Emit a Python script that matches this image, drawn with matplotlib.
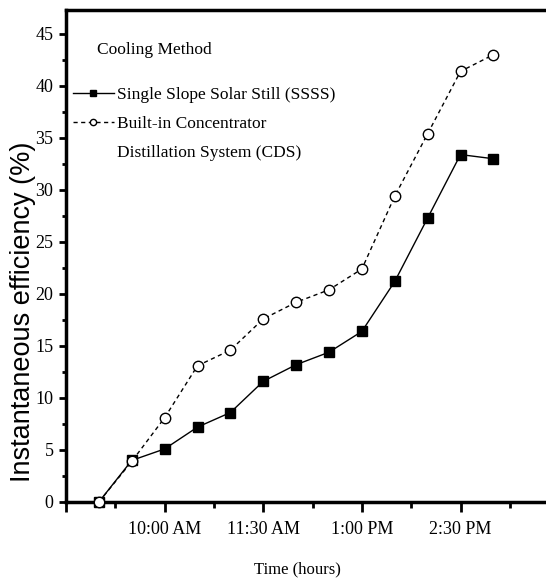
import matplotlib
matplotlib.use("Agg")
import matplotlib.pyplot as plt
from matplotlib.ticker import FixedLocator, FixedFormatter, MultipleLocator

# Time of day in hours (9:00 ... 15:00, every 30 minutes)
hours = [9.0, 9.5, 10.0, 10.5, 11.0, 11.5, 12.0, 12.5, 13.0, 13.5, 14.0, 14.5, 15.0]
ssss = [0.0, 4.0, 5.1, 7.2, 8.6, 11.6, 13.2, 14.4, 16.4, 21.2, 27.3, 33.4, 33.0]
cds = [0.0, 3.9, 8.1, 13.1, 14.6, 17.6, 19.2, 20.4, 22.4, 29.4, 35.4, 41.4, 43.0]

major_ticks = [8.5, 10.0, 11.5, 13.0, 14.5, 16.0]
major_labels = ["", "10:00 AM", "11:30 AM", "1:00 PM", "2:30 PM", ""]
minor_ticks = [9.25, 10.75, 12.25, 13.75, 15.25]

serif = "Liberation Serif"
fs = 12.5

fig = plt.figure(figsize=(5.46, 5.83), dpi=100)
ax = fig.add_axes([66 / 546, 81 / 583, 526 / 546, 492 / 583])

ax.plot(hours, ssss, color="black", lw=1.0, marker="s", ms=7.5,
        mfc="black", mec="black", clip_on=False, zorder=3,
        label="Single Slope Solar Still (SSSS)")
ax.plot(hours, cds, color="black", lw=1.0, ls=(0, (3, 2.5)), marker="o", ms=7.5,
        mfc="white", mec="black", mew=1.0, clip_on=False, zorder=4,
        label="Built-in Concentrator")

ax.set_xlim(8.5, 16.5)
ax.set_ylim(0, 47.3)

ax.xaxis.set_major_locator(FixedLocator(major_ticks))
ax.xaxis.set_major_formatter(FixedFormatter(major_labels))
ax.xaxis.set_minor_locator(FixedLocator(minor_ticks))
ax.yaxis.set_major_locator(MultipleLocator(5))
ax.yaxis.set_minor_locator(MultipleLocator(2.5))

ax.tick_params(axis="x", which="major", direction="out", length=7, width=2, pad=7)
ax.tick_params(axis="x", which="minor", direction="out", length=4, width=2)
ax.tick_params(axis="y", which="major", direction="out", length=5, width=2, pad=4)
ax.tick_params(axis="y", which="minor", direction="out", length=3, width=2)

for lab in ax.get_xticklabels() + ax.get_yticklabels():
    lab.set_fontfamily(serif)
    lab.set_fontsize(13)

for side in ["left", "bottom", "top", "right"]:
    ax.spines[side].set_linewidth(2.5)

ax.set_xlabel("Time (hours)", fontfamily=serif, fontsize=12)
ax.xaxis.set_label_coords(231 / 526, -59 / 492)
ax.set_ylabel("Instantaneous efficiency (%)", fontfamily="Liberation Sans", fontsize=19.5)
ax.yaxis.set_label_coords(-30 / 526, (502 - 312) / 492)

ax.text(31 / 526, (502 - 50) / 492, "Cooling Method", transform=ax.transAxes,
        fontfamily=serif, fontsize=fs, va="center", ha="left")
leg = ax.legend(loc="upper left", bbox_to_anchor=(0, (502 - 80) / 492),
                frameon=False, prop={"family": serif, "size": fs},
                handlelength=2.35, handletextpad=0.17, markerscale=0.6,
                labelspacing=0.73, borderaxespad=0.0)

# second line of the CDS label, placed under the legend text
fig.canvas.draw()
bb = leg.get_texts()[1].get_window_extent()
ax.annotate("Distillation System (CDS)", xy=(bb.x0, bb.y0), xycoords="figure pixels",
            xytext=(0, -29), textcoords="offset pixels",
            fontfamily=serif, fontsize=fs, ha="left", va="bottom")

fig.savefig("out.png", dpi=100)
